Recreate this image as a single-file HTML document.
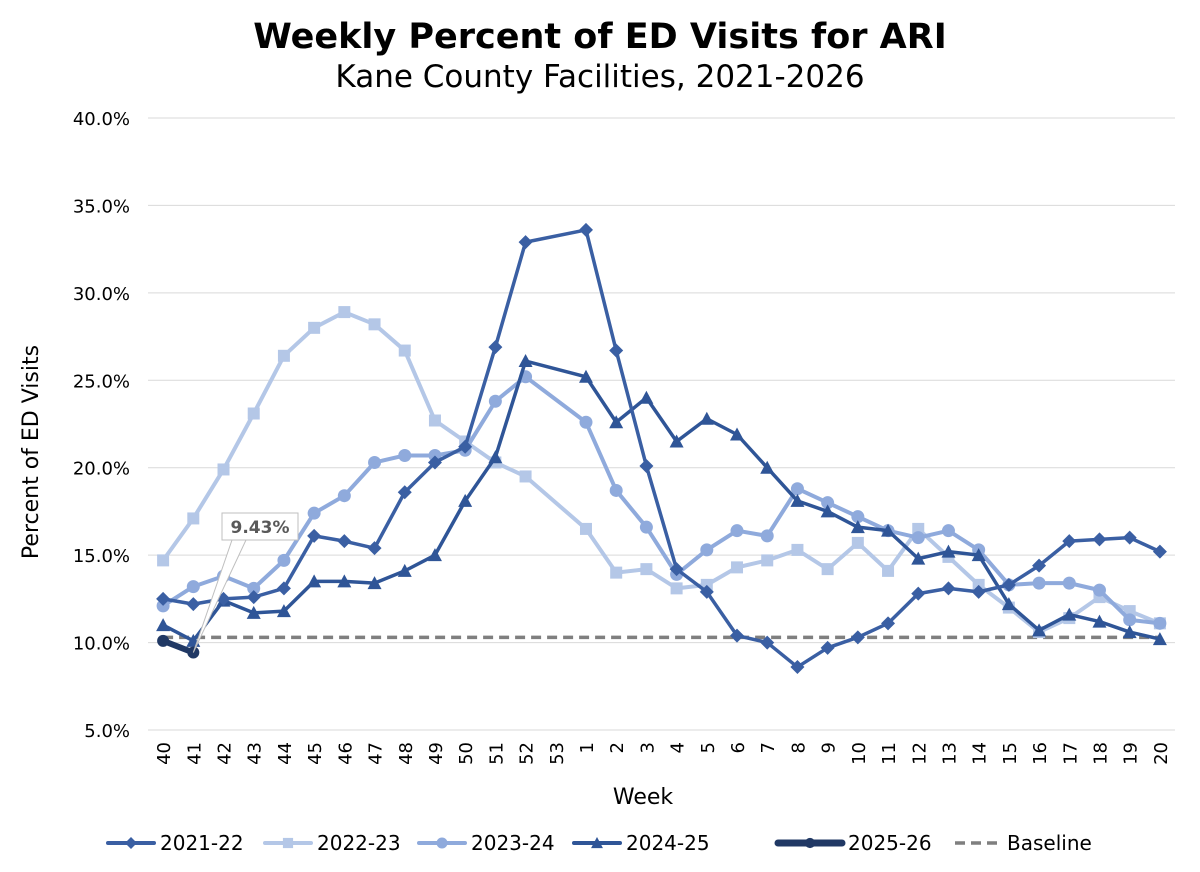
<!DOCTYPE html>
<html><head><meta charset="utf-8"><style>
body{margin:0;background:#fff;}
svg{display:block;font-family:"DejaVu Sans","Liberation Sans",sans-serif;}
</style></head><body>
<svg id="chart" width="1200" height="872" viewBox="0 0 1200 872">
<rect width="1200" height="872" fill="#fff"/>
<text x="600" y="48" text-anchor="middle" font-size="35" font-weight="bold" fill="#000">Weekly Percent of ED Visits for ARI</text>
<text x="600" y="87" text-anchor="middle" font-size="31" fill="#000">Kane County Facilities, 2021-2026</text>
<g id="grid"></g><g id="axes"></g><g id="series"></g>
<text transform="translate(38,452) rotate(-90)" text-anchor="middle" font-size="22" fill="#000">Percent of ED Visits</text>
<text x="643" y="804" text-anchor="middle" font-size="22" fill="#000">Week</text>
<g id="legend"></g>
</svg>
<script>
const weeks=["40","41","42","43","44","45","46","47","48","49","50","51","52","53","1","2","3","4","5","6","7","8","9","10","11","12","13","14","15","16","17","18","19","20"];
const yTicks=[5,10,15,20,25,30,35,40];
const s2122=[12.5,12.2,12.5,12.6,13.1,16.1,15.8,15.4,18.6,20.3,21.2,26.9,32.9,null,33.6,26.7,20.1,14.2,12.9,10.4,10.0,8.6,9.7,10.3,11.1,12.8,13.1,12.9,13.3,14.4,15.8,15.9,16.0,15.2];
const s2223=[14.7,17.1,19.9,23.1,26.4,28.0,28.9,28.2,26.7,22.7,21.5,20.3,19.5,null,16.5,14.0,14.2,13.1,13.3,14.3,14.7,15.3,14.2,15.7,14.1,16.5,14.9,13.3,12.0,10.6,11.4,12.6,11.8,11.1];
const s2324=[12.1,13.2,13.8,13.1,14.7,17.4,18.4,20.3,20.7,20.7,21.0,23.8,25.2,null,22.6,18.7,16.6,13.9,15.3,16.4,16.1,18.8,18.0,17.2,16.4,16.0,16.4,15.3,13.3,13.4,13.4,13.0,11.3,11.1];
const s2425=[11.0,10.1,12.4,11.7,11.8,13.5,13.5,13.4,14.1,15.0,18.1,20.6,26.1,null,25.2,22.6,24.0,21.5,22.8,21.9,20.0,18.1,17.5,16.6,16.4,14.8,15.2,15.0,12.2,10.7,11.6,11.2,10.6,10.2];
const s2526=[10.1,9.43];
const baseline=10.3;
const NS="http://www.w3.org/2000/svg";
const x0=148,x1=1175,yTop=118,yBot=730;
const xs=i=>x0+(i+0.5)*(x1-x0)/weeks.length;
const ys=v=>yBot-(v-5)/35*(yBot-yTop);
function mk(t,a,p){const e=document.createElementNS(NS,t);for(const k in a)e.setAttribute(k,a[k]);p.appendChild(e);return e;}
const grid=document.getElementById('grid'),axes=document.getElementById('axes'),ser=document.getElementById('series'),leg=document.getElementById('legend');
yTicks.forEach(v=>{
 const l=mk('line',{x1:x0,x2:x1,y1:ys(v),y2:ys(v),stroke:'#d9d9d9','stroke-width':1},grid);
 
 
 const t=mk('text',{x:130,y:ys(v)+7,'text-anchor':'end','font-size':18,fill:'#000'},axes);
 t.textContent=v.toFixed(1)+'%';
 
 
});
weeks.forEach((w,i)=>{
 const t=mk('text',{transform:`translate(${xs(i)+7},${742}) rotate(-90)`,'text-anchor':'end','font-size':18,fill:'#000'},axes);
 t.textContent=w;
 
 
});
function marker(type,x,y,c,g,s){
 s=s||1;let e;
 if(type==='diamond')e=mk('polygon',{points:`${x},${y-7*s} ${x+7*s},${y} ${x},${y+7*s} ${x-7*s},${y}`,fill:c},g);
 else if(type==='square')e=mk('rect',{x:x-6*s,y:y-6*s,width:12*s,height:12*s,fill:c},g);
 else if(type==='circle')e=mk('circle',{cx:x,cy:y,r:6.5*s,fill:c},g);
 else if(type==='triangle')e=mk('polygon',{points:`${x},${y-7*s} ${x+7*s},${y+6*s} ${x-7*s},${y+6*s}`,fill:c},g);
 else e=mk('circle',{cx:x,cy:y,r:6*s,fill:c},g);
 return e;
}
function drawSeries(data,color,type,w,name){
 const g=mk('g',{},ser);
 
 
 const pts=[];data.forEach((v,i)=>{if(v!=null)pts.push([xs(i),ys(v)]);});
 const p=mk('polyline',{points:pts.map(p=>p.join(',')).join(' '),fill:'none',stroke:color,'stroke-width':w,'stroke-linejoin':'round','stroke-linecap':'round'},g);
 
 
 pts.forEach(q=>{const m=marker(type,q[0],q[1],color,g);
  
  });
}
const bl=mk('line',{x1:xs(0),x2:xs(weeks.length-1),y1:ys(baseline),y2:ys(baseline),stroke:'#7f7f7f','stroke-width':3.5,'stroke-dasharray':'10 6'},ser);


drawSeries(s2223,'#b4c7e7','square',4,'2022-23');
drawSeries(s2324,'#8faadc','circle',4,'2023-24');
drawSeries(s2425,'#2f5597','triangle',3.5,'2024-25');
drawSeries(s2122,'#3a5fa3','diamond',3.5,'2021-22');
drawSeries(s2526,'#203864','dot',6,'2025-26');
const lx=xs(1),ly=ys(s2526[1]);
const cg=mk('g',{},ser);


mk('polygon',{points:`${lx},${ly} 232,540 246,540`,fill:'#fff',stroke:'#bfbfbf','stroke-width':1},cg);
mk('rect',{x:222,y:513,width:76,height:27,fill:'#fff',stroke:'#bfbfbf','stroke-width':1},cg);
const ct=mk('text',{x:260,y:533,'text-anchor':'middle','font-size':17,'font-weight':'bold',fill:'#595959'},cg);
ct.textContent=(s2526[1]).toFixed(2)+'%';
const items=[['2021-22','#3a5fa3','diamond',46],['2022-23','#b4c7e7','square',46],['2023-24','#8faadc','circle',46],['2024-25','#2f5597','triangle',46],['2025-26','#203864','dot',64],['Baseline','#7f7f7f','dash',46]];
const lxs=[108,265,419,574,778,955];
items.forEach((it,i)=>{
 const g=mk('g',{},leg);
 
 
 const X=lxs[i],Y=843,W=it[3];
 if(it[2]==='dash')mk('line',{x1:X,x2:X+W,y1:Y,y2:Y,stroke:it[1],'stroke-width':3.5,'stroke-dasharray':'10 6'},g);
 else{mk('line',{x1:X,x2:X+W,y1:Y,y2:Y,stroke:it[1],'stroke-width':it[2]==='dot'?7:4,'stroke-linecap':'round'},g);marker(it[2],X+W/2,Y,it[1],g,0.85);}
 const t=mk('text',{x:X+W+6,y:Y+7,'font-size':20,fill:'#000'},g);t.textContent=it[0];
});
</script>
</body></html>
